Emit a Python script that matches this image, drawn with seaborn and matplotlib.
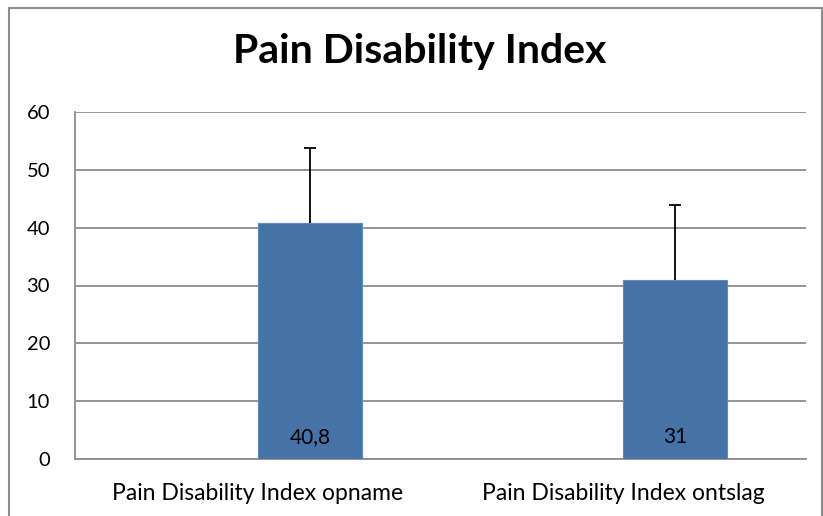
import numpy as np
import pandas as pd
import seaborn as sns
import matplotlib.pyplot as plt
from matplotlib.lines import Line2D

sns.set_style('white')
plt.rcParams['font.family'] = ['Lato', 'DejaVu Sans']

# data
categories = ['Pain Disability Index opname', 'Pain Disability Index ontslag']
means = [40.8, 31]
sd = [13.0, 12.9]
labels = ['40,8', '31']

# Excel chart has an empty first series, so the bars sit right of the category centre
df = pd.DataFrame({
    'meting': categories * 2,
    'reeks': ['leeg'] * 2 + ['PDI'] * 2,
    'score': [np.nan, np.nan] + means,
})

fig = plt.figure(figsize=(8.23, 5.16), dpi=100)
ax = fig.add_axes([75 / 823, 1 - 459 / 516, (806 - 75) / 823, (459 - 112) / 516])

sns.barplot(data=df, x='meting', y='score', hue='reeks', hue_order=['leeg', 'PDI'],
            palette={'leeg': '#4572A7', 'PDI': '#4572A7'}, width=0.57, saturation=1,
            edgecolor='#5F8BC4', linewidth=0.8, legend=False, ax=ax, zorder=3)

bars = [p for p in ax.patches if p.get_height() > 0]
bars.sort(key=lambda p: p.get_x())
for p, s, txt in zip(bars, sd, labels):
    xc = p.get_x() + p.get_width() / 2
    top = p.get_height()
    # upper error bar only
    ax.vlines(xc, top, top + s, color='black', linewidth=1.3, zorder=4)
    ax.hlines(top + s, xc - 0.016, xc + 0.016, color='black', linewidth=1.3, zorder=4)
    ax.text(xc, 2.0, txt, ha='center', va='bottom', fontsize=15, color='black', zorder=5)

ax.set_ylim(0, 60)
ax.set_xlim(-0.5, 1.5)
ax.set_yticks(range(0, 61, 10))
ax.yaxis.grid(True, color='#8C8C8C', linewidth=1.3, zorder=0)
ax.set_axisbelow(True)
for side in ['top', 'right']:
    ax.spines[side].set_visible(False)
for side in ['left', 'bottom']:
    ax.spines[side].set_color('#8C8C8C')
    ax.spines[side].set_linewidth(1.3)
ax.tick_params(axis='both', length=0, colors='black')
ax.tick_params(axis='y', pad=18, labelsize=14.5)
ax.tick_params(axis='x', pad=17, labelsize=16.5)
ax.set_xlabel('')
ax.set_ylabel('')

fig.text(420 / 823, 1 - 52 / 516, 'Pain Disability Index', ha='center', va='center',
         fontsize=29.5, fontweight='bold', color='black')

# chart frame
for xs, ys in [([9, 9], [8, 516]), ([9, 822], [8, 8]), ([822, 822], [8, 516])]:
    fig.add_artist(Line2D([x / 823 for x in xs], [1 - y / 516 for y in ys],
                          color='#8C8C8C', linewidth=1.5))

fig.savefig('out.png', dpi=100)
